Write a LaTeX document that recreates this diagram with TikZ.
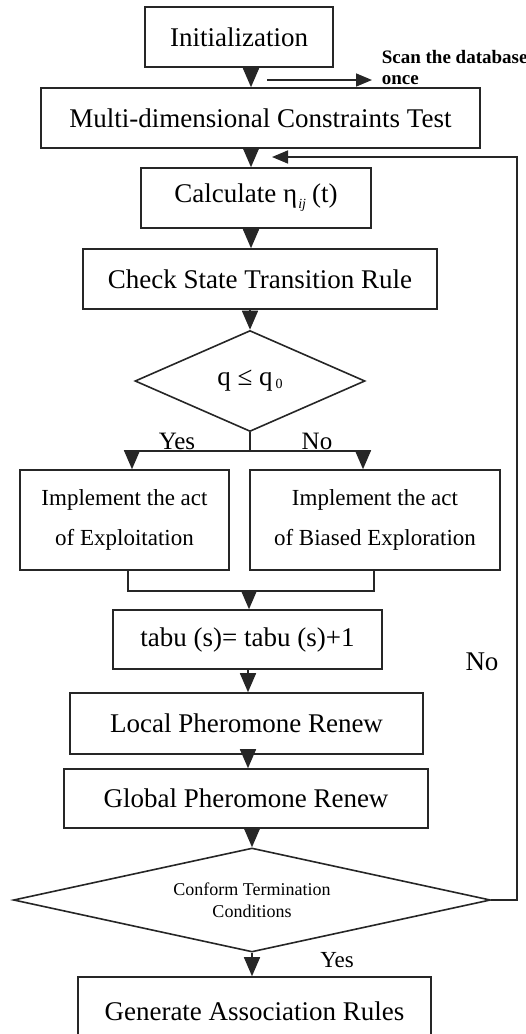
\documentclass[tikz,border=0pt]{standalone}
\usepackage{fontspec}
\setmainfont{Liberation Serif}
\usetikzlibrary{arrows.meta,shapes.geometric,calc}
\begin{document}
\begin{tikzpicture}[x=1pt,y=-1pt,
  line width=1.6pt, draw=black!85,
  box/.style={draw=black!85, rectangle, inner sep=0pt, font=\fontsize{27}{30}\selectfont, align=center},
  twobox/.style={box, font=\fontsize{23}{40}\selectfont},
  dia/.style={draw=black!85, diamond, inner sep=0pt},
  arr/.style={-{Triangle[length=19pt,width=16pt]}},
  arrs/.style={-{Triangle[length=16pt,width=13pt]}},
  lbl/.style={inner sep=0pt, anchor=base}]
\useasboundingbox (0,0) rectangle (526,1034);
% boxes
\node[box, minimum width=188pt, minimum height=60pt] (init) at (239,37) {Initialization};
\node[box, minimum width=439pt, minimum height=60pt] (mdct) at (260.5,118) {Multi-dimensional Constraints Test};
\node[box, minimum width=230pt, minimum height=60pt] (calc) at (256,198)
  {Calculate η\hspace{1pt}\raisebox{-6pt}{\fontsize{14}{14}\selectfont\itshape ij}\hspace{6pt}(t)};
\node[box, minimum width=354pt, minimum height=60pt] (check) at (260,279) {Check State Transition Rule};
\node[dia, minimum width=230pt, minimum height=101pt, aspect=2.28, font=\fontsize{27}{30}\selectfont] (q) at (250,381)
  {q ≤ q\hspace{3pt}\raisebox{-3pt}{\fontsize{14}{14}\selectfont 0}};
\node[twobox, minimum width=209pt, minimum height=100pt] (left) at (124.5,520) {Implement the act\\of Exploitation};
\node[twobox, minimum width=250pt, minimum height=100pt] (right) at (375,520) {Implement the act\\of Biased Exploration};
\node[box, minimum width=269pt, minimum height=59pt] (tabu) at (247.5,639.5) {tabu (s)= tabu (s)+1};
\node[box, minimum width=353pt, minimum height=61pt] (local) at (246.5,723.5) {Local Pheromone Renew};
\node[box, minimum width=364pt, minimum height=59pt] (global) at (246,798.5) {Global Pheromone Renew};
\node[dia, minimum width=477pt, minimum height=104pt, aspect=4.59, align=center, font=\fontsize{18}{22}\selectfont] (cond) at (252,900)
  {Conform Termination\\Conditions};
\node[box, minimum width=353pt, minimum height=68pt] (gen) at (254.5,1011) {Generate Association Rules};
% labels
\node[anchor=north west, inner sep=0pt, align=left, font=\bfseries\fontsize{19}{21}\selectfont] (scan) at (381,50) {Scan the database\\once};
\node[lbl, font=\fontsize{25}{25}\selectfont] (yes1) at (177,449) {Yes};
\node[lbl, font=\fontsize{25}{25}\selectfont] (no1) at (317,449) {No};
\node[lbl, font=\fontsize{27}{27}\selectfont] (no2) at (482,670) {No};
\node[lbl, font=\fontsize{23}{23}\selectfont] (yes2) at (337,967) {Yes};
% coordinates
\coordinate (col) at (251,0);
\coordinate (s1) at (267,80);
\coordinate (s2) at (372,80);
\coordinate (yl) at (132,451);
\coordinate (nr) at (363,451);
\coordinate (ml) at (128,591);
\coordinate (mr) at (374,591);
\coordinate (mj) at (249,591);
\coordinate (col3) at (248,0);
\coordinate (fbc) at (517,157);
\coordinate (fbt) at (272,157);
% connectors
\draw[arr] (init.south -| col) -- (mdct.north -| col);
\draw[arrs] (s1) -- (s2);
\draw[arr] (mdct.south -| col) -- (calc.north -| col);
\draw[arr] (calc.south -| col) -- (check.north -| col);
\draw[arr] (check.south -| q.north) -- (q.north);
\draw (q.south) -- (q.south |- yl);
\draw (yl) -- (nr);
\draw[arr] (yl) -- (left.north -| yl);
\draw[arr] (nr) -- (right.north -| nr);
\draw (left.south -| ml) -- (ml) -- (mr) -- (right.south -| mr);
\draw[arr] (mj) -- (tabu.north -| mj);
\draw[arr] (tabu.south -| col3) -- (local.north -| col3);
\draw[arr] (local.south -| col3) -- (global.north -| col3);
\draw[arr] (global.south -| cond.north) -- (cond.north);
\draw[arr] (cond.south) -- (gen.north -| cond.south);
\draw[arrs] (cond.east) -| (fbc) -- (fbt);
\end{tikzpicture}
\end{document}
